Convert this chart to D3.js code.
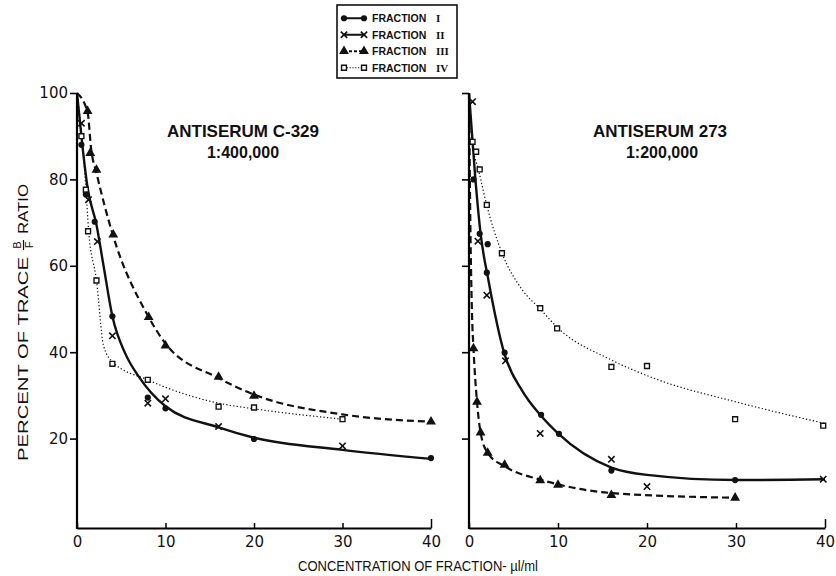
<!DOCTYPE html>
<html>
<head>
<meta charset="utf-8">
<script src="https://cdnjs.cloudflare.com/ajax/libs/d3/7.8.5/d3.min.js"></script>
<style>
  body { margin: 0; background: #fff; }
  svg text { fill: #111; }
</style>
</head>
<body>
<div id="chart"></div>
<script>
// ---- data (concentration ul/ml, percent of trace B/F) ----
var xTicks = [0, 10, 20, 30, 40];
var yTicks = [20, 40, 60, 80, 100];
var fractionNames = ["I", "II", "III", "IV"];

// antiserum C-329 1:400,000
var c329FracI   = [[0.5, 88], [1, 76.5], [2, 70.2], [4, 48.3], [8, 29.5], [10, 27], [20, 19.9], [40, 15.5]];
var c329FracII  = [[0.5, 93], [1.3, 75.3], [2.3, 65.6], [4, 43.8], [8, 28.2], [10, 29.2], [16, 22.8], [30, 18.3]];
var c329FracIII = [[1.2, 95.8], [1.5, 86.1], [2.2, 82.2], [4.1, 67.2], [8.1, 48.1], [10, 41.5], [16, 34.3], [20, 29.9], [40, 23.9]];
var c329FracIV  = [[0.5, 90], [1, 77.6], [1.25, 68], [2.2, 56.6], [4, 37.3], [8, 33.6], [16, 27.4], [20, 27.2], [30, 24.5]];
// hand drawn curves
var c329Solid  = [[0, 100], [0.6, 88], [1.2, 78], [2.2, 69.5], [3, 60], [4, 48.3], [5.5, 39.5], [7, 34.3], [10, 27.5], [16, 22.6], [20, 20.2], [30, 17.4], [40, 15.3]];
var c329Dashed = [[0, 100], [1.2, 95.5], [1.6, 87], [2.2, 81.5], [4, 67.5], [8, 48.5], [10, 42], [16, 34], [20, 30.2], [30, 25.6], [40, 23.9]];
var c329Dotted = [[0, 100], [0.5, 91], [1, 78], [1.3, 68.5], [2.2, 56.6], [3, 41.5], [4, 37.8], [8, 33.6], [16, 28.2], [20, 26.9], [30, 24.5]];

// antiserum 273 1:200,000
var a273FracI   = [[0.5, 80], [1.2, 67.4], [2, 58.4], [2.1, 65], [4, 39.9], [8.1, 25.5], [10.1, 21.1], [16, 12.6], [29.9, 10.4]];
var a273FracII  = [[0.4, 98], [1, 65.7], [2, 53.2], [4.1, 38], [8, 21.2], [16, 15.2], [20, 8.9], [39.8, 10.6]];
var a273FracIII = [[0.5, 40.9], [0.9, 28.5], [1.3, 21.4], [2.1, 16.7], [4, 13.9], [8, 10.3], [10, 9.3], [16, 6.9], [29.9, 6.3]];
var a273FracIV  = [[0.4, 88.7], [0.8, 86.4], [1.2, 82.3], [2, 74.1], [3.7, 62.9], [8, 50.2], [9.9, 45.5], [16, 36.6], [20, 36.8], [29.9, 24.5], [39.8, 23]];
var a273Solid  = [[0, 100], [0.7, 80.5], [1.3, 67.5], [2.2, 56.5], [4, 39.5], [6, 31], [8, 25.5], [10, 21.2], [16, 13.3], [20, 11.6], [30, 10.4], [40, 10.6]];
var a273Dashed = [[0, 100], [0.15, 70], [0.35, 48], [0.5, 41], [0.9, 28.5], [1.3, 21.4], [2.1, 16.7], [4, 13.6], [8, 10.5], [10, 9.4], [16, 7.4], [30, 6.3]];
var a273Dotted = [[0, 100], [0.35, 89], [1.1, 82], [2, 74], [3.7, 63], [6, 54.4], [8, 50], [10, 45.6], [16, 38.2], [21, 33.8], [30, 28.5], [40, 23.5]];

var width = 836;
var height = 576;

var svg = d3.select("#chart").append("svg")
  .attr("width", width).attr("height", height)
  .style("font-family", "'DejaVu Sans', sans-serif");

var y = d3.scaleLinear().domain([0, 100]).range([525, 93]);
var xLeft = d3.scaleLinear().domain([0, 40]).range([77, 431]);
var xRight = d3.scaleLinear().domain([0, 40]).range([469, 825]);
var axisY = 528;

var styles = {
  solid:  { width: 2.4, dash: null },
  dashed: { width: 2.2, dash: "7,4" },
  dotted: { width: 1.2, dash: "1.3,2.2" }
};

function marker(sel, kind) {
  if (kind == "circle") {
    sel.attr("d", d3.symbol().type(d3.symbolCircle).size(30)).attr("fill", "#111");
  } else if (kind == "times") {
    sel.attr("d", d3.symbol().type(d3.symbolTimes).size(28)).attr("fill", "none").attr("stroke", "#111").attr("stroke-width", 1.6);
  } else if (kind == "triangle") {
    sel.attr("d", d3.symbol().type(d3.symbolTriangle).size(42)).attr("fill", "#111");
  } else {
    sel.attr("d", d3.symbol().type(d3.symbolSquare).size(24)).attr("fill", "#fff").attr("stroke", "#111").attr("stroke-width", 1.4);
  }
}

function panel(x, showLabels, curves, points, title, dilution, titleX, dilX) {
  var g = svg.append("g");

  // curves
  var line = d3.line().x(function (d) { return x(d[0]); }).y(function (d) { return y(d[1]); }).curve(d3.curveMonotoneX);
  curves.forEach(function (c) {
    var st = styles[c.style];
    g.append("path").attr("d", line(c.data)).attr("fill", "none")
      .attr("stroke", "#111").attr("stroke-width", st.width)
      .attr("stroke-dasharray", st.dash).attr("stroke-linejoin", "round");
  });

  // points
  points.forEach(function (p) {
    g.selectAll(null).data(p.data).enter().append("path")
      .attr("transform", function (d) { return "translate(" + x(d[0]) + "," + y(d[1]) + ")"; })
      .call(marker, p.kind);
  });

  // y axis
  var ya = d3.axisLeft(y).tickValues(yTicks).tickSizeInner(7).tickSizeOuter(0).tickPadding(2);
  if (!showLabels) ya.tickFormat("");
  var gy = g.append("g").attr("transform", "translate(" + x(0) + ",0)").call(ya);
  gy.select(".domain").attr("stroke-width", 2.2).attr("d", "M0," + y(100) + "V" + (axisY + 1));
  gy.selectAll(".tick line").attr("stroke-width", 1.6);
  gy.selectAll("text").style("font-size", "15px").style("font-family", "'DejaVu Sans', sans-serif").attr("fill", "#111");

  // x axis
  var xa = d3.axisBottom(x).tickValues(xTicks).tickSizeInner(-5).tickSizeOuter(0).tickPadding(8);
  var gx = g.append("g").attr("transform", "translate(0," + axisY + ")").call(xa);
  gx.select(".domain").attr("stroke-width", 2);
  gx.selectAll(".tick line").attr("stroke-width", 1.5);
  gx.selectAll(".tick").filter(function (d) { return d == 40; }).select("line").attr("y2", -9);
  gx.selectAll("text").style("font-size", "15px").style("font-family", "'DejaVu Sans', sans-serif").attr("fill", "#111");

  g.append("text").attr("x", titleX).attr("y", 137)
    .attr("text-anchor", "middle").style("font-family", "'Liberation Sans', Arial, sans-serif")
    .style("font-weight", "bold").style("font-size", "17px").text(title);
  g.append("text").attr("x", dilX).attr("y", 158)
    .attr("text-anchor", "middle").style("font-family", "'Liberation Sans', Arial, sans-serif")
    .style("font-weight", "bold").style("font-size", "16px").text(dilution);
}

panel(xLeft, true,
  [{ data: c329Solid, style: "solid" }, { data: c329Dashed, style: "dashed" }, { data: c329Dotted, style: "dotted" }],
  [{ data: c329FracIV, kind: "square" }, { data: c329FracIII, kind: "triangle" }, { data: c329FracII, kind: "times" }, { data: c329FracI, kind: "circle" }],
  "ANTISERUM C-329", "1:400,000", 243, 243);

panel(xRight, false,
  [{ data: a273Solid, style: "solid" }, { data: a273Dashed, style: "dashed" }, { data: a273Dotted, style: "dotted" }],
  [{ data: a273FracIV, kind: "square" }, { data: a273FracIII, kind: "triangle" }, { data: a273FracII, kind: "times" }, { data: a273FracI, kind: "circle" }],
  "ANTISERUM  273", "1:200,000", 660, 662);

// x title
svg.append("text").attr("x", 418).attr("y", 571).attr("text-anchor", "middle")
  .attr("textLength", 240).attr("lengthAdjust", "spacingAndGlyphs")
  .style("font-family", "'Liberation Sans', Arial, sans-serif").style("font-size", "14px")
  .text("CONCENTRATION OF FRACTION- \u00b5l/ml");

// y title with B/F fraction
var yt = svg.append("g").attr("transform", "translate(22,245) rotate(-90)")
  .style("font-family", "'Liberation Sans', Arial, sans-serif").style("font-size", "15px");
yt.append("text").attr("x", -12).attr("y", 6).attr("text-anchor", "end")
  .attr("textLength", 204).attr("lengthAdjust", "spacingAndGlyphs").text("PERCENT OF TRACE");
yt.append("text").attr("x", 0).attr("y", -1).attr("text-anchor", "middle").style("font-size", "11px").text("B");
yt.append("line").attr("x1", -5).attr("x2", 5).attr("y1", 1.5).attr("y2", 1.5).attr("stroke", "#111").attr("stroke-width", 1.2);
yt.append("text").attr("x", 0).attr("y", 11).attr("text-anchor", "middle").style("font-size", "11px").text("F");
yt.append("text").attr("x", 11).attr("y", 6).attr("text-anchor", "start")
  .attr("textLength", 50).attr("lengthAdjust", "spacingAndGlyphs").text("RATIO");

// legend
var legend = svg.append("g");
legend.append("rect").attr("x", 337).attr("y", 5).attr("width", 120).attr("height", 73)
  .attr("fill", "#fff").attr("stroke", "#111").attr("stroke-width", 1.6);
var legendKinds = ["circle", "times", "triangle", "square"];
var legendStyles = ["solid", "solid", "dashed", "dotted"];
var ly = d3.scaleBand().domain(fractionNames).range([10, 76]);
fractionNames.forEach(function (n, i) {
  var yy = ly(n) + ly.bandwidth() / 2;
  var st = styles[legendStyles[i]];
  legend.append("line").attr("x1", 344).attr("x2", 364).attr("y1", yy).attr("y2", yy)
    .attr("stroke", "#111").attr("stroke-width", Math.min(st.width, 2)).attr("stroke-dasharray", st.dash ? (i == 2 ? "3,2" : "1.2,1.6") : null);
  [344, 364].forEach(function (px) {
    legend.append("path").attr("transform", "translate(" + px + "," + yy + ")").call(marker, legendKinds[i]);
  });
  legend.append("text").attr("x", 372).attr("y", yy + 4)
    .style("font-family", "'Liberation Sans', Arial, sans-serif").style("font-weight", "bold").style("font-size", "10.5px")
    .text("FRACTION");
  legend.append("text").attr("x", 436).attr("y", yy + 4)
    .style("font-family", "'Liberation Serif', serif").style("font-weight", "bold").style("font-size", "11px")
    .text(n);
});
</script>
</body>
</html>
